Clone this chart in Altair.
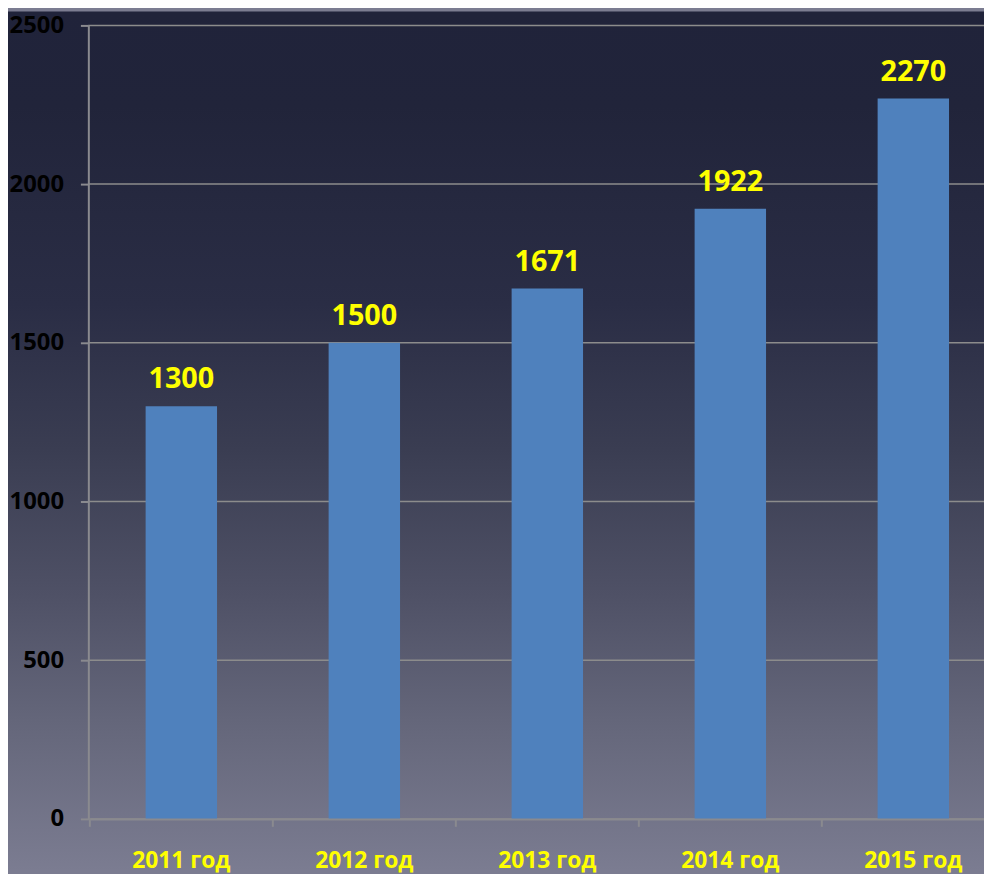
import altair as alt
import pandas as pd

years = ["2011 год", "2012 год", "2013 год", "2014 год", "2015 год"]
values = [1300, 1500, 1671, 1922, 2270]
y_ticks = [0, 500, 1000, 1500, 2000, 2500]

df = pd.DataFrame({"year": years, "value": values})

FONT = "Open Sans"
PLOT_W = 903
PLOT_H = 800
STEP = 184.5

xscale = alt.Scale(domain=years, range=[1.5, 1.5 + STEP * len(years)], paddingInner=0, paddingOuter=0)
yscale = alt.Scale(domain=[0, 2500], nice=False)

gradient = alt.Gradient(
    gradient="linear",
    x1=0, y1=0, x2=0, y2=1,
    stops=[
        alt.GradientStop(color="#20233a", offset=0),
        alt.GradientStop(color="#21243a", offset=0.11),
        alt.GradientStop(color="#2a2d45", offset=0.34),
        alt.GradientStop(color="#3a3d52", offset=0.51),
        alt.GradientStop(color="#4f5166", offset=0.68),
        alt.GradientStop(color="#64667a", offset=0.825),
        alt.GradientStop(color="#7b7c91", offset=1),
    ],
)

bg = alt.Chart(df).mark_rect(color=gradient).encode(
    x=alt.value(-81), x2=alt.value(PLOT_W), y=alt.value(-14), y2=alt.value(PLOT_H + 52)
).transform_filter(alt.datum.year == years[0])

bars = alt.Chart(df).mark_bar(size=72, color="#4f81bd").encode(
    x=alt.X("year:N", scale=xscale, sort=years,
            axis=alt.Axis(title=None, ticks=False, domain=True, domainColor="#8a8a8f",
                          domainWidth=2, labelColor="#ffff00", labelFont=FONT,
                          labelFontWeight="bold", labelFontSize=23, labelPadding=31,
                          labelAngle=0, grid=False, zindex=1)),
    y=alt.Y("value:Q", scale=yscale,
            axis=alt.Axis(title=None, values=y_ticks, format="d",
                          grid=False,
                          domain=True, domainColor="#8a8a8f", domainWidth=2,
                          ticks=True, tickSize=8, tickColor="#8a8a8f", tickWidth=2,
                          labelColor="#000000", labelFont=FONT, labelFontWeight="bold",
                          labelFontSize=24, labelPadding=17, zindex=1)),
)

grid_layer = alt.Chart(df).mark_rule(color="#8c8c8c", strokeWidth=1.5).encode(
    y=alt.Y("v:Q", scale=yscale),
    x=alt.value(0),
    x2=alt.value(PLOT_W),
).transform_filter(alt.datum.year == years[0]).transform_calculate(
    v=str(y_ticks)
).transform_flatten(["v"])

labels = alt.Chart(df).mark_text(
    color="#ffff00", font=FONT, fontWeight="bold", fontSize=29,
    baseline="alphabetic", align="center", dy=-18,
).encode(
    x=alt.X("year:N", scale=xscale, sort=years),
    y=alt.Y("value:Q", scale=yscale),
    text=alt.Text("value:Q", format="d"),
)

xticks = alt.Chart(df).mark_rule(color="#8a8a8f", strokeWidth=2).encode(
    x=alt.X("year:N", scale=xscale, sort=years, bandPosition=0),
    y=alt.value(PLOT_H),
    y2=alt.value(PLOT_H + 8),
)

chart = alt.layer(bg, grid_layer, bars, xticks, labels).properties(
    width=PLOT_W,
    height=PLOT_H,
    autosize=alt.AutoSizeParams(type="none"),
    padding={"left": 81, "top": 14, "right": 0, "bottom": 52},
).configure_view(stroke=None).configure(background="#7b7c91")

chart.save("out.html", embed_options={"renderer": "svg", "actions": False})
